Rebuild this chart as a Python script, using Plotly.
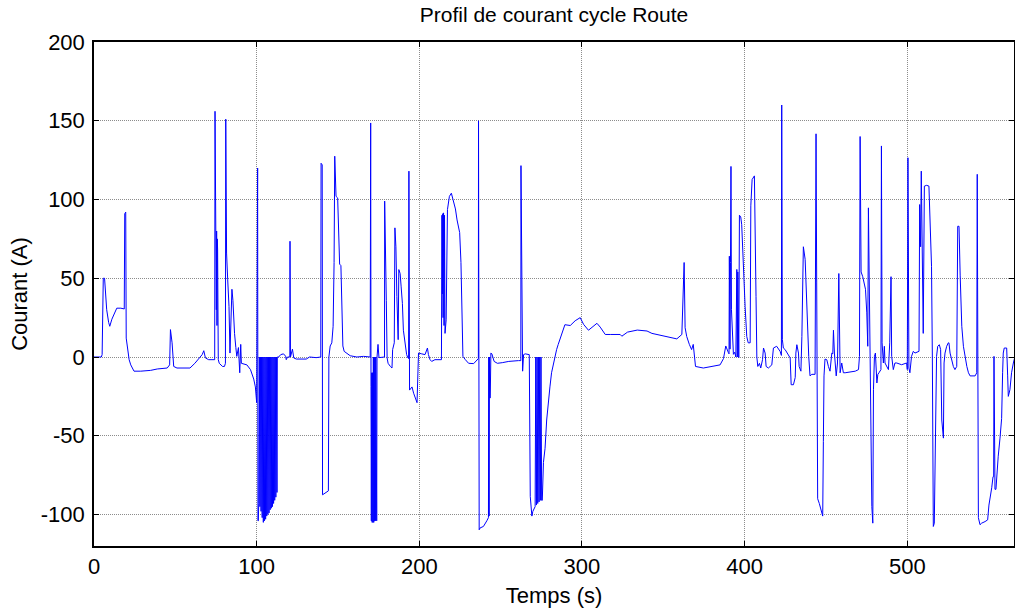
import plotly.graph_objects as go

# Time (s) and current (A)
time_s = [
    0, 4.5, 5.0, 5.4, 5.7, 6.5, 7.0, 7.8, 9.0, 9.7, 11, 12.5, 14, 16.5, 18.6, 18.9, 19.5, 19.8,
    20.6, 21.6, 22.6, 24.6, 28.7, 34.8, 38.9, 45, 46.5, 47, 48, 49, 51, 59, 62, 65.5, 66.5, 67.5,
    68.5, 70.5, 74.2, 74.4, 74.8, 75.2, 75.4, 75.6, 75.8, 76.0, 76.4, 77, 79, 80.2, 80.8, 81,
    81.5, 82.2, 83, 83.6, 84.2, 84.8, 85.4, 85.8, 86.4, 87.2, 87.8, 88.8, 89.6, 90.2, 90.6, 94,
    96.2, 98.2, 99.2, 100.0, 100.2, 100.6, 100.8, 101.0,
    101.3, 101.65, 102.0, 102.35, 102.7, 103.05, 103.4, 103.75, 104.1, 104.45, 104.8, 105.15,
    105.5, 105.85, 106.2, 106.55, 106.9, 107.25, 107.6, 107.95, 108.3, 108.65, 109.0, 109.35,
    109.7, 110.05, 110.4, 110.75, 111.1, 111.45, 111.8, 112.15, 112.5,
    112.7, 113.5, 114.8, 116.5, 117.8, 118.2, 119, 120.4, 120.5, 120.8, 122, 122.8, 124.4, 130.5,
    132.5, 136.6, 139.4, 139.6, 140.3, 140.5, 144.1, 144.4, 145.2, 146.2, 147.0, 147.6, 148.0,
    148.8, 149.8, 150.2, 150.6, 151, 151.8, 152.2, 153, 153.8, 155.4, 157.5, 161.6, 165.7, 169.8,
    170.1, 170.3, 170.5, 170.75, 171.0, 171.25, 171.5, 171.75, 172.0, 172.25, 172.5, 172.75,
    173.0, 173.25, 173.5, 173.8, 174.0,
    174.6, 175.2, 177.2, 178.6, 178.7, 179.1, 179.7, 180.2, 180.8, 182.2, 183.2, 183.6, 184.6,
    185, 185.6, 186.2, 187, 187.4, 188.2, 188.8, 189.6, 190.2, 191.2, 192.2, 193.0, 193.4, 193.6,
    194.0, 195.5, 196.5, 198.6, 199, 199.5, 201.5, 203.5, 205, 205.6, 206.6, 207.6, 209.6, 213.6,
    213.9, 214.2, 214.4, 214.6, 214.9, 215.2, 215.5, 215.8, 216.5, 217.3, 218.5, 219.7, 220.7,
    222.2, 223.2, 224.8, 225.6, 226.2, 226.8, 228.3, 230.3, 233.4, 234.8, 236.3, 236.4, 236.8,
    237.4, 239.4, 241.5, 242.5, 242.7, 242.9, 243.1, 243.3, 243.6, 244, 244.6, 246, 248, 251, 255,
    261, 262.4, 262.5, 263.1, 263.5, 264.1, 265.1, 267.6, 268.2, 269.2, 269.8, 271.2,
    271.6, 272.0, 272.4, 272.8, 273.2, 273.6, 274.0, 274.4, 274.8, 275.2, 275.6,
    276.3, 277.3, 278.3, 279.3, 280.3, 281.3, 282.4, 283.4, 284.4, 285.4, 286.4, 288, 289.5,
    292.8, 295.8, 298.9, 301, 304, 306, 309.2, 311.2, 314.3, 317.4, 323.5, 324.5, 328, 334, 340,
    343, 348, 354.2, 358.3, 361.4, 362.8, 363.4, 364.4, 366, 367.4, 368.4, 368.8, 369.8, 374.6,
    380.8, 384.9, 387, 388.4, 390.0, 390.4, 390.6, 391.0, 391.3, 391.6, 391.9, 392.3, 393.1,
    393.9, 394.6, 395.2, 395.5, 395.8, 396.2, 396.4, 396.8, 397.6, 398.2, 398.9, 399.5, 400.3,
    401.3, 402.2, 403.4, 403.8, 404.6, 406.0, 407, 407.5, 408.1, 409.1, 409.9, 411, 411.6, 412.6,
    413.2, 414.6, 416.7, 417.7, 419.7, 421.8, 422.6, 422.8, 423.2, 423.8, 424.9, 426.9, 428,
    428.6, 430, 431.1, 431.5, 432.1, 433.1, 433.5, 434.6, 435.2, 436.1, 437.2, 437.8, 438.6,
    439.4, 440.2, 441.3, 443.3, 443.9, 444.3, 444.7, 444.9, 445.9, 446.8, 447.6, 448, 448.4,
    448.8, 449.4, 450.5, 451.5, 452.5, 453.6, 454.2, 454.6, 455.2, 456.3, 457.1, 457.9, 458.3,
    458.7, 459.7, 460.7, 461.8, 464.9, 468, 470, 470.6, 471, 471.6, 472.6, 473.4, 474.3, 475.1,
    475.7, 476.1, 476.7, 477.1, 477.6, 478.2, 478.8, 479.2, 479.8, 480.4, 481.3, 481.9, 482.6,
    483.8, 484.1, 484.5, 485.3, 485.9, 486.3, 487.3, 488.4, 489.2, 490, 490.4, 491.4, 492.4,
    493.5, 496.5, 499.6, 500, 500.4, 501, 501.6, 502.6, 503.7, 504.7, 507.2, 507.6, 508.2, 508.6,
    509.2, 509.8, 510.5, 511.9, 513.3, 513.9, 514.9, 515.4, 516.0, 516.6, 517.4, 518.0, 518.7,
    519.7, 520.5, 521.2, 522.2, 522.6, 523.2, 524.2, 525.2, 525.6, 526.3, 527.3, 528.3, 529.3,
    530.4, 531.0, 531.8, 532.5, 533.5, 534.5, 535.5, 536.6, 537.6, 538.6, 541.7, 542.7, 543.0,
    543.5, 543.7, 544.7, 545.7, 547.8, 549.4, 550.2, 551.1, 551.9, 552.7, 553.1, 553.3, 553.5,
    553.9, 554.5, 554.9, 555.9, 557, 558, 558.6, 559, 559.6, 561.1, 561.7, 562.1, 563.1, 564.1,
    565.2, 566.2,
]

current_a = [
    0, 0, 1.5, 33, 50, 50, 43, 30, 22, 19.5, 24, 28, 31, 31, 30.5, 91, 92, 12,
    7, -1.7, -5, -9, -9, -8.5, -7.6, -7, -5, 17.4, 9, -6, -7, -7, -4, 0.4, 1.5, 4,
    -0.6, -1.7, -1.7, 156, 82, 30, 80, 20, 75, 68, -1.7, -4, -6, -6, -4, 151,
    66, 49, 32, 2.5, 32, 43, 36, 24, 15, 6, 0.4, 6, -10, 8, -4, -5,
    -8, -14, -19, -29, 120, 120, -104, -104,
    -93, 0, -95, 0, -98, 0, -102, 0, -105, 0, -104, 0,
    -103, 0, -101, 0, -100, 0, -99, 0, -97, 0, -96, 0,
    -95, 0, -93, 0, -91, 0, -89, 0, -86,
    0, 0, 1.5, 2, 0.5, -1.7, 0, 0, 73.5, 0, 5, -0.6, -1.3, -1.3,
    0, -0.4, 0, 123, 122, -87.5, -85, 0, 7, 9, 19.5, 60, 127.5,
    102, 101, 83, 80, 59, 58, 32, 7, 3.6, 2.5, 0.8, 0, 0.4, 0,
    148.6, -18.6, -104, -10, -105, -10, -105, 0, -105, 0, -104, 0,
    -104, 0, -104, -104, 0,
    8, -0.4, 0, 0, 99, 55, 36, -0.6, -4, -6, -7, 4.7, 9,
    82, 70, 38.5, 11, 55.5, 53, 45, 34, 17, 7, 1.5, -0.6, -1, 118,
    -21, -19, -23, -29, -10, 2.5, 2, 1.5, 5.7, 1.5, -1.7, -2.8, -1.7, -1.7,
    90, 40, 91, 25, 91.5, 20, 90, 15, 23.6, 93.6, 102, 104, 100,
    94, 87, 79, 60, 36, 0.4, -1.7, -4, -4.2, -2.8, -1, 150, -109.7,
    -108.5, -107.6, -104, -102, 0, -101, 0, -26, -26, 2.5, 2, -2.8, -4, -3.6, -2.8,
    -2.3, -2.3, 121.5, 65, -9, 1.5, 2, 1.5, -88.5, -101, -98, -95,
    0, -94, 0, -93, 0, -92, 0, -91, 0, -91, -91,
    -67, -58, -40, -27, -19, -10, -4, 1.5, 4.7, 8, 11, 16, 20.5,
    20, 23, 25, 20.7, 17, 18.6, 21.4, 19, 14.3, 14.3, 14.3, 13.2, 15.8, 17.1, 16.5,
    15, 13.7, 12.2, 11.5, 14.3, 60, 18.6, 13, 8, 4.7, 8, 2.5, -6, -7,
    -6, -5, -1, 7, 2.8, 2, 64, 5, 60, 121, 30, 23, 1.7,
    3, 0, 55.6, 0, 54, 0, -0.4, 90, 89, 84, 66, 40.7, 32,
    13, 9, 9, 96, 112.7, 115, 38.5, 0, -6, -4, -7, -1.7, 5.7, 2.5,
    -6, -7, -5, 5.7, 6.8, 3.6, 1, 160, 11, 5.7, 4.7, 1.5, -0.6,
    -17.6, -17.6, -13, 2.5, 7.8, 2.5, -6, -9, 13, 70, 62, 43, 15,
    0.4, -12, -11, -11, 141.7, 47, -42, -90, -93, -97, -101, -101, -53.6,
    -12, -1.3, -1.7, -6, -9, 2.5, 2, 17, 2.5, -12, -3.8, 53, -3.8,
    -10, -3.8, -10, -10, -9.7, -9, -8, 0.4, 140, 54, 51, 47, 43, 28,
    6.8, 94.7, 43, 0.4, -69.5, -95, -105.5, -20.8, 0.4, 2.5, -16.5, -11, -10,
    -8, 134, 9, -3.8, 6.8, -3.8, -6, -8, 9, 51, 0.4, -8, -3.8,
    -3.8, -4.9, -3.8, -8, 126.5, -7, -10, 0.4, 3.6, 2.5, 3.6, 96.8, 70, 118,
    78, 15, 108.5, 109, 108.5, 85, 57.6, 0, -107.6, -105.5, -33.5, 0.4, 6.8,
    7.8, 4.7, -40, -51.5, -3.8, 2.5, 6.8, 9, 9, 2.5, -1.7, -6, -8,
    -6, 83, 83, 52, 19.5, 6.8, 0.4, -6, -10, -12, -12, -10, 116,
    -42, -102, -106.5, -105.5, -104.5, -103.4, -94, -88.6, -83, -76, -76, 0.4, -50,
    -84, -84, -77, -63, -51.5, -39, -10, 2.5, 5.7, 5.7, -12, -25, -20.8, -10,
    -3.8, 0.4,
]

x_ticks = [0, 100, 200, 300, 400, 500]
x_tick_labels = ["0", "100", "200", "300", "400", "500"]
y_ticks = [-100, -50, 0, 50, 100, 150, 200]
y_tick_labels = ["-100", "-50", "0", "50", "100", "150", "200"]

fig = go.Figure()
fig.add_trace(go.Scatter(
    x=time_s, y=current_a, mode="lines",
    line=dict(color="#0000FF", width=1),
    showlegend=False, hoverinfo="skip",
))

font_family = "Liberation Sans, Arial, sans-serif"

axis_common = dict(
    showline=True, linecolor="black", linewidth=1.5, mirror="ticks",
    ticks="inside", ticklen=5, tickcolor="black", tickwidth=1,
    showgrid=True, gridcolor="rgb(140,140,140)", griddash="1px,1px", gridwidth=1,
    zeroline=False, automargin=False,
    tickfont=dict(family=font_family, size=22, color="black"),
)

fig.update_layout(
    width=1015, height=612,
    margin=dict(l=94, r=1, t=42, b=66),
    paper_bgcolor="white", plot_bgcolor="white",
    font=dict(family=font_family, color="black"),
    title=dict(
        text="Profil de courant cycle Route",
        font=dict(family=font_family, size=21, color="black"),
        x=0.5, xref="paper", xanchor="center",
        y=1 - 15 / 612, yref="container", yanchor="middle",
    ),
    xaxis=dict(
        range=[0, 565.6], tickvals=x_ticks, ticktext=x_tick_labels,
        title=dict(text="Temps (s)", font=dict(family=font_family, size=22, color="black"), standoff=9),
        **axis_common,
    ),
    yaxis=dict(
        range=[-120, 200], tickvals=y_ticks, ticktext=y_tick_labels, ticklabelstandoff=3,
        title=dict(text="Courant (A)", font=dict(family=font_family, size=22, color="black"), standoff=7),
        **axis_common,
    ),
)

fig.write_html(
    "out.html",
    config={"displayModeBar": False},
    post_script="document.body.style.margin='0';document.body.style.overflow='hidden';",
)
